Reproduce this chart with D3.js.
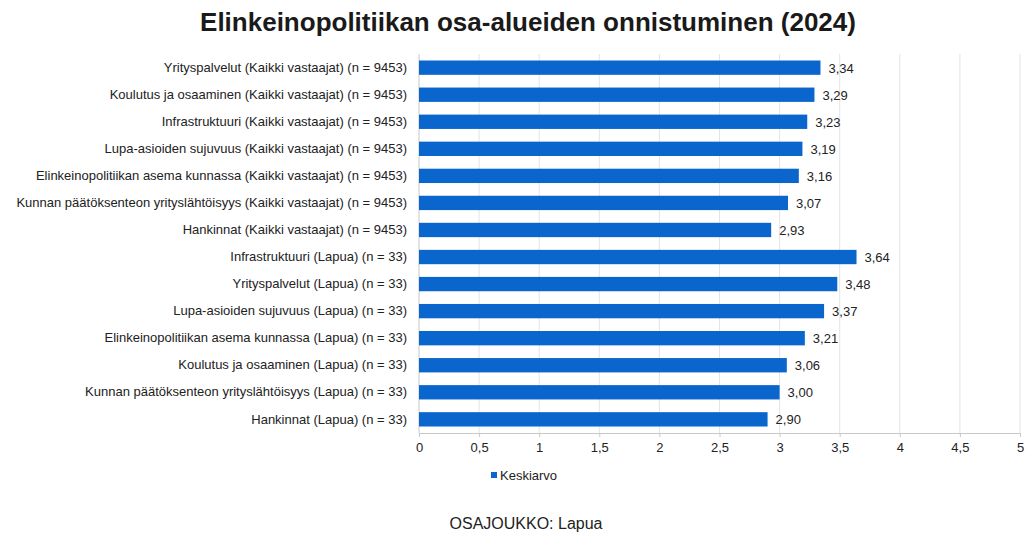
<!DOCTYPE html>
<html>
<head>
<meta charset="utf-8">
<script src="https://cdn.jsdelivr.net/npm/d3@7"></script>
<style>
  body { margin: 0; background: #fff; }
  svg { font-family: "Liberation Sans", Arial, sans-serif; }
</style>
</head>
<body>
<svg id="chart" width="1028" height="535"></svg>
<script>
const categories = [
    "Yrityspalvelut (Kaikki vastaajat) (n = 9453)",
    "Koulutus ja osaaminen (Kaikki vastaajat) (n = 9453)",
    "Infrastruktuuri (Kaikki vastaajat) (n = 9453)",
    "Lupa-asioiden sujuvuus (Kaikki vastaajat) (n = 9453)",
    "Elinkeinopolitiikan asema kunnassa (Kaikki vastaajat) (n = 9453)",
    "Kunnan päätöksenteon yrityslähtöisyys (Kaikki vastaajat) (n = 9453)",
    "Hankinnat (Kaikki vastaajat) (n = 9453)",
    "Infrastruktuuri (Lapua) (n = 33)",
    "Yrityspalvelut (Lapua) (n = 33)",
    "Lupa-asioiden sujuvuus (Lapua) (n = 33)",
    "Elinkeinopolitiikan asema kunnassa (Lapua) (n = 33)",
    "Koulutus ja osaaminen (Lapua) (n = 33)",
    "Kunnan päätöksenteon yrityslähtöisyys (Lapua) (n = 33)",
    "Hankinnat (Lapua) (n = 33)"
];
const values = [3.34, 3.29, 3.23, 3.19, 3.16, 3.07, 2.93, 3.64, 3.48, 3.37, 3.21, 3.06, 3.00, 2.90];
const xTicks = [0, 0.5, 1, 1.5, 2, 2.5, 3, 3.5, 4, 4.5, 5];
const seriesName = "Keskiarvo";

const svg = d3.select("#chart");
const m = { left: 419, right: 1020, top: 54, bottom: 433 };

const x = d3.scaleLinear().domain([0, 5]).range([m.left, m.right]);
const y = d3.scaleBand().domain(categories).range([m.top, m.bottom]).paddingInner(0.47).paddingOuter(0.24);

const fmt = (v) => v.toFixed(2).replace(".", ",");

// title
svg.append("text")
    .attr("x", 528).attr("y", 31)
    .attr("text-anchor", "middle")
    .attr("font-size", 26).attr("font-weight", "bold")
    .attr("fill", "#1a1a1a")
    .text("Elinkeinopolitiikan osa-alueiden onnistuminen (2024)");

// grid
svg.append("g").selectAll("line").data(xTicks.slice(1)).enter().append("line")
    .attr("x1", (d) => x(d)).attr("x2", (d) => x(d))
    .attr("y1", m.top).attr("y2", m.bottom)
    .attr("stroke", "#e4e4e4").attr("stroke-width", 1);

// left axis line
svg.append("line")
    .attr("x1", m.left).attr("x2", m.left).attr("y1", m.top).attr("y2", m.bottom)
    .attr("stroke", "#c8c8c8");

// bars
svg.append("g").selectAll("rect").data(values).enter().append("rect")
    .attr("x", x(0))
    .attr("y", (d, i) => y(categories[i]))
    .attr("width", (d) => x(d) - x(0))
    .attr("height", y.bandwidth())
    .attr("fill", "#0a66cc");

// value labels
svg.append("g").selectAll("text").data(values).enter().append("text")
    .attr("x", (d) => x(d) + 8)
    .attr("y", (d, i) => y(categories[i]) + y.bandwidth() / 2 + 5)
    .attr("font-size", 13).attr("fill", "#222")
    .text((d) => fmt(d));

// category labels
const yAxis = svg.append("g")
    .attr("transform", `translate(${m.left},0)`)
    .call(d3.axisLeft(y).tickSize(0).tickPadding(12));
yAxis.select(".domain").remove();
yAxis.selectAll("text").attr("font-size", 13).attr("fill", "#222").attr("font-family", "Liberation Sans, Arial, sans-serif");

// bottom axis
const xAxis = svg.append("g")
    .attr("transform", `translate(0,${m.bottom})`)
    .call(d3.axisBottom(x).tickValues(xTicks).tickSize(4).tickPadding(6)
        .tickFormat((d) => String(d).replace(".", ",")));
xAxis.select(".domain").attr("stroke", "#c8c8c8");
xAxis.selectAll(".tick line").attr("stroke", "#c8c8c8");
xAxis.selectAll("text").attr("font-size", 13).attr("fill", "#222").attr("font-family", "Liberation Sans, Arial, sans-serif");

// legend
svg.append("rect").attr("x", 491).attr("y", 472).attr("width", 6).attr("height", 6).attr("fill", "#0a66cc");
svg.append("text").attr("x", 500).attr("y", 480)
    .attr("font-size", 13).attr("fill", "#222").text(seriesName);

// footer
svg.append("text")
    .attr("x", 526).attr("y", 529)
    .attr("text-anchor", "middle")
    .attr("font-size", 16).attr("fill", "#222")
    .text("OSAJOUKKO: Lapua");
</script>
</body>
</html>
